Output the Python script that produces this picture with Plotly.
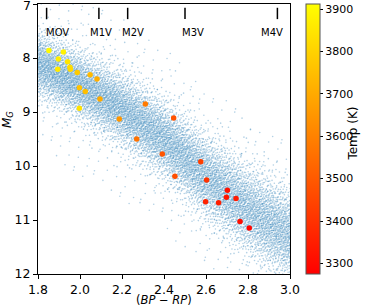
import numpy as np
from statistics import NormalDist
import plotly.graph_objects as go

# ---- Highlighted stars ----
star_bprp = [1.852, 1.921, 1.897, 1.941, 1.894, 1.952, 1.954, 1.987, 2.048, 2.081,
             1.997, 2.025, 2.095, 1.997, 2.187, 2.311, 2.446, 2.270, 2.392, 2.452,
             2.575, 2.603, 2.702, 2.697, 2.743, 2.598, 2.660, 2.762, 2.806]
star_mg = [7.86, 7.89, 8.02, 8.07, 8.21, 8.17, 8.21, 8.27, 8.31, 8.39,
           8.55, 8.62, 8.76, 8.93, 9.13, 8.85, 9.11, 9.50, 9.78, 10.19,
           9.92, 10.26, 10.45, 10.58, 10.60, 10.66, 10.68, 11.03, 11.15]
star_temp = [3900, 3880, 3870, 3850, 3860, 3830, 3820, 3780, 3740, 3710,
             3760, 3750, 3700, 3840, 3650, 3580, 3480, 3560, 3490, 3470,
             3430, 3400, 3320, 3330, 3340, 3360, 3350, 3310, 3290]

# ---- Background main-sequence band (ridge) ----
ridge_bprp = [1.75, 1.8, 2.0, 2.2, 2.4, 2.6, 2.8, 3.0, 3.05]
ridge_mg = [7.95, 8.1, 8.5, 8.95, 9.5, 10.2, 10.8, 11.3, 11.45]
ridge_spread = [0.27, 0.27, 0.28, 0.30, 0.32, 0.34, 0.36, 0.38, 0.38]
band_count = 10000
outlier_count = 450

# ---- Spectral type markers ----
spt_labels = ["MOV", "M1V", "M2V", "M3V", "M4V"]
spt_tick_x = [1.841, 2.09, 2.227, 2.50, 2.94]
spt_label_x = [1.895, 2.10, 2.252, 2.54, 2.912]

# ---- Axis ticks ----
x_ticks = [1.8, 2.0, 2.2, 2.4, 2.6, 2.8, 3.0]
x_ticktext = ["1.8", "2.0", "2.2", "2.4", "2.6", "2.8", "3.0"]
y_ticks = [7, 8, 9, 10, 11, 12]
y_ticktext = ["", "8", "9", "10", "11", "12"]   # "7" drawn as annotation (top edge)


def halton(n, base):
    seq = np.zeros(n)
    for i in range(n):
        f, r, k = 1.0, 0.0, i + 1
        while k > 0:
            f /= base
            r += f * (k % base)
            k //= base
        seq[i] = r
    return seq


u = halton(band_count, 2)
v = halton(band_count, 3)
nd = NormalDist()
bx = ridge_bprp[0] + u * (ridge_bprp[-1] - ridge_bprp[0])
z = np.array([nd.inv_cdf(min(max(t, 1e-4), 1 - 1e-4)) for t in v])
by = np.interp(bx, ridge_bprp, ridge_mg) + np.interp(bx, ridge_bprp, ridge_spread) * z * 1.15

ou = halton(outlier_count, 5)
ov = halton(outlier_count, 7)
ox = 1.8 + ou * 1.2
oy = np.interp(ox, ridge_bprp, ridge_mg) + (ov - 0.5) * 3.4

fig = go.Figure()
fig.add_trace(go.Scatter(
    x=np.concatenate([bx, ox]), y=np.concatenate([by, oy]), mode="markers",
    marker=dict(size=1.6, color="#1f77b4", opacity=0.34, line=dict(width=0)),
    hoverinfo="skip", showlegend=False))

fig.add_trace(go.Scatter(
    x=star_bprp, y=star_mg, mode="markers",
    marker=dict(size=5.5, color=star_temp,
                colorscale=[[0, "rgb(255,0,0)"], [1, "rgb(255,255,0)"]],
                cmin=3275, cmax=3912,
                colorbar=dict(
                    thickness=14, len=1.0, lenmode="fraction", y=0.5, yanchor="middle",
                    x=1.063, xanchor="left", xpad=0, ypad=0,
                    outlinecolor="#555", outlinewidth=1,
                    ticks="outside", ticklen=3, tickcolor="black",
                    tickvals=[3300, 3400, 3500, 3600, 3700, 3800, 3900],
                    tickfont=dict(size=11, color="black")),
                line=dict(width=0)),
    showlegend=False))

# spectral-type tick marks
for tx in spt_tick_x:
    fig.add_shape(type="line", x0=tx, x1=tx, y0=7.07, y1=7.28,
                  line=dict(color="black", width=1.5), xref="x", yref="y")
for lx, lab in zip(spt_label_x, spt_labels):
    fig.add_annotation(x=lx, y=7.53, text=lab, showarrow=False,
                       font=dict(size=10, color="black"), xref="x", yref="y")

# top y tick label
fig.add_annotation(x=0, y=y_ticks[0], xref="paper", yref="y", text="7",
                   showarrow=False, xanchor="right", yanchor="middle",
                   xshift=-5, yshift=-1, font=dict(size=12.5, color="black"))

# axis titles and colorbar title as annotations
fig.add_annotation(x=0.5, y=-0.095, xref="paper", yref="paper",
                   text="(<i>BP</i> − <i>RP</i>)", showarrow=False,
                   xanchor="center", yanchor="middle",
                   font=dict(size=11.5, color="black"))
fig.add_annotation(x=-0.119, y=0.57, xref="paper", yref="paper",
                   text="<i>M</i><sub><i>G</i></sub>", showarrow=False, textangle=-90,
                   xanchor="center", yanchor="middle",
                   font=dict(size=12, color="black"))
fig.add_annotation(x=1.25, y=0.52, xref="paper", yref="paper",
                   text="Temp (K)", showarrow=False, textangle=-90,
                   xanchor="center", yanchor="middle",
                   font=dict(size=12, color="black"))

axis_common = dict(showgrid=False, zeroline=False, showline=True, linecolor="black",
                   linewidth=1, mirror=True, ticks="outside", ticklen=4,
                   tickcolor="black", tickfont=dict(size=12.5, color="black"),
                   ticklabeloverflow="allow", automargin=False)
fig.update_xaxes(range=[1.8, 3.0], tickvals=x_ticks, ticktext=x_ticktext, **axis_common)
fig.update_yaxes(range=[12, 7], tickvals=y_ticks, ticktext=y_ticktext, **axis_common)

fig.update_layout(width=374, height=306,
                  margin=dict(l=38, r=84, t=4, b=32, autoexpand=False),
                  paper_bgcolor="white", plot_bgcolor="white",
                  font=dict(family="DejaVu Sans", color="black"))

fig.write_html("out.html", config={"displayModeBar": False},
               post_script="document.body.style.margin='0px';"
                           "document.body.style.padding='0px';")
